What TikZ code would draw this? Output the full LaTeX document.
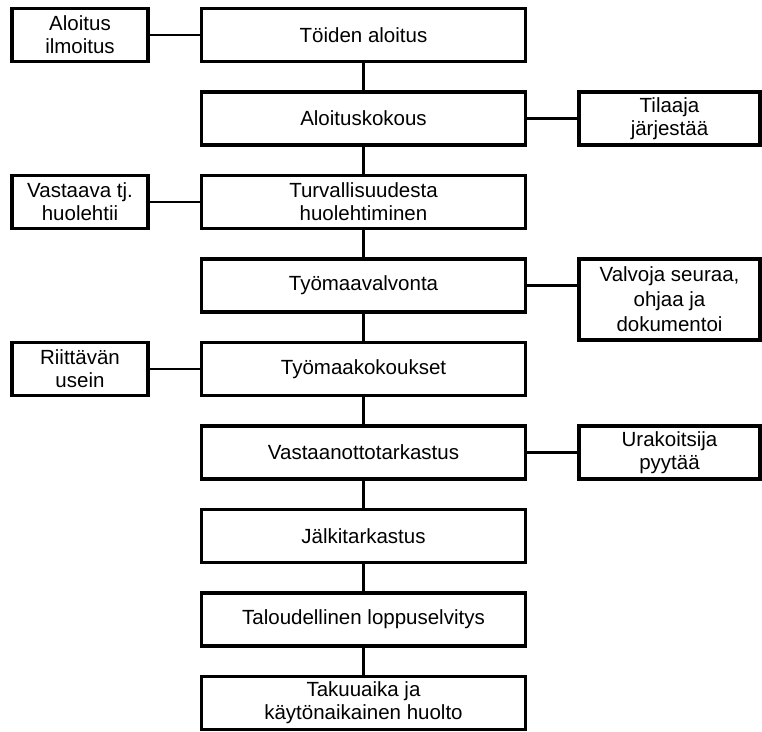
\documentclass[tikz,border=0pt]{standalone}
\usepackage{fontspec}
\setmainfont{Liberation Sans}
\begin{document}
\begin{tikzpicture}[x=1pt, y=-1pt,
    mainbox/.style={draw, line width=3.2pt, minimum width=324pt, minimum height=53pt,
      inner sep=0pt, outer sep=0pt, align=center, font=\fontsize{20.5}{23}\selectfont},
    sidebox/.style={mainbox, minimum width=136pt},
    rightbox/.style={mainbox, minimum width=181pt},
    link/.style={line width=2.7pt}]
      \useasboundingbox (0,0) rectangle (762,731);

      \node[mainbox] (aloitus) at (363.5, 35){Töiden aloitus};
      \node[mainbox] (kokous) at (363.5, 118.5){Aloituskokous};
      \node[mainbox] (turva) at (363.5, 202){Turvallisuudesta\\huolehtiminen};
      \node[mainbox] (valvonta) at (363.5, 285.5){Työmaavalvonta};
      \node[mainbox] (tmkokous) at (363.5, 369){Työmaakokoukset};
      \node[mainbox] (vastaanotto) at (363.5, 452.5){Vastaanottotarkastus};
      \node[mainbox] (jalki) at (363.5, 536){Jälkitarkastus};
      \node[mainbox] (loppu) at (363.5, 619.5){Taloudellinen loppuselvitys};
      \node[mainbox] (takuu) at (363.5, 703){Takuuaika ja\\käytönaikainen huolto};

      \node[sidebox] (ilmoitus) at (80, 35){Aloitus\\ilmoitus};
      \node[sidebox] (vastaava) at (80, 202){Vastaava tj.\\huolehtii};
      \node[sidebox] (usein) at (80, 369){Riittävän\\usein};

      \node[rightbox] (tilaaja) at (669.5, 118.5){Tilaaja\\järjestää};
      \node[rightbox, minimum height=81pt, font=\fontsize{20.5}{25}\selectfont]
        (valvoja) at (669.5, 299.5){Valvoja seuraa,\\ohjaa ja\\dokumentoi};
      \node[rightbox] (urakoitsija) at (669.5, 452.5){Urakoitsija\\pyytää};

      \draw[link] (aloitus) to (kokous);
      \draw[link] (kokous) to (turva);
      \draw[link] (turva) to (valvonta);
      \draw[link] (valvonta) to (tmkokous);
      \draw[link] (tmkokous) to (vastaanotto);
      \draw[link] (vastaanotto) to (jalki);
      \draw[link] (jalki) to (loppu);
      \draw[link] (loppu) to (takuu);

      \draw[link] (ilmoitus) to (aloitus);
      \draw[link] (vastaava) to (turva);
      \draw[link] (usein) to (tmkokous);
      \draw[link] (kokous) to (tilaaja);
      \draw[link] (valvonta.east) to (valvonta.east -| valvoja.west);
      \draw[link] (vastaanotto) to (urakoitsija);
    \end{tikzpicture}
\end{document}
